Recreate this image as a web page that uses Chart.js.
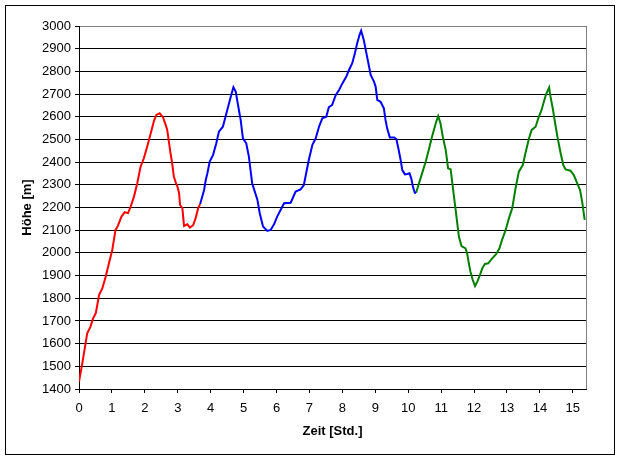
<!DOCTYPE html>
<html><head><meta charset="utf-8">
<script src="https://cdn.jsdelivr.net/npm/chart.js@4"></script>
<style>html,body{margin:0;padding:0;background:#fff}canvas{display:block}</style>
</head><body>
<canvas id="c" width="620" height="460"></canvas>
<script>
// Segment 1 (red)
const redTime = [0.00,0.10,0.15,0.25,0.35,0.43,0.51,0.61,0.71,0.81,0.91,1.01,1.11,1.18,1.29,1.39,1.49,1.57,1.67,1.77,1.87,1.97,2.07,2.18,2.28,2.35,2.45,2.55,2.62,2.68,2.73,2.78,2.83,2.88,2.94,2.99,3.04,3.07,3.14,3.19,3.29,3.37,3.47,3.54,3.62,3.68];
const redHeight = [1432,1513,1557,1646,1675,1712,1734,1814,1844,1895,1954,2013,2101,2119,2160,2179,2175,2204,2248,2307,2380,2417,2468,2527,2583,2608,2615,2598,2570,2542,2490,2439,2395,2336,2310,2292,2263,2211,2197,2119,2126,2111,2123,2152,2197,2215];
// Segment 2 (blue)
const blueTime = [3.68,3.80,3.85,3.90,3.97,4.07,4.17,4.25,4.37,4.45,4.53,4.61,4.69,4.76,4.84,4.91,4.98,5.08,5.16,5.21,5.26,5.34,5.42,5.49,5.59,5.72,5.82,5.92,6.02,6.15,6.23,6.43,6.58,6.73,6.83,6.90,6.98,7.09,7.19,7.29,7.39,7.51,7.59,7.69,7.80,7.90,8.00,8.12,8.20,8.30,8.38,8.45,8.52,8.57,8.65,8.72,8.79,8.86,8.96,9.01,9.06,9.16,9.26,9.31,9.36,9.44,9.57,9.64,9.70,9.77,9.82,9.90,9.97,10.04,10.10,10.14,10.20,10.24];
const blueHeight = [2215,2277,2321,2351,2402,2431,2483,2534,2556,2600,2644,2688,2730,2711,2644,2586,2505,2483,2424,2365,2307,2270,2233,2175,2116,2097,2101,2125,2160,2197,2219,2221,2270,2280,2299,2351,2409,2476,2505,2556,2593,2600,2642,2652,2696,2718,2747,2777,2806,2836,2880,2924,2960,2979,2938,2887,2836,2784,2755,2733,2674,2666,2637,2586,2549,2509,2509,2502,2461,2409,2365,2346,2348,2351,2324,2292,2265,2265];
// Segment 3 (green)
const greenTime = [10.24,10.32,10.43,10.53,10.61,10.71,10.78,10.85,10.91,10.98,11.05,11.14,11.21,11.29,11.34,11.39,11.44,11.49,11.54,11.62,11.74,11.79,11.84,11.89,11.96,12.03,12.10,12.18,12.25,12.33,12.43,12.55,12.67,12.77,12.85,12.96,13.06,13.16,13.26,13.36,13.48,13.56,13.67,13.75,13.87,13.95,14.05,14.12,14.19,14.28,14.32,14.39,14.48,14.55,14.63,14.71,14.78,14.93,15.03,15.13,15.22,15.29,15.36];
const greenHeight = [2265,2303,2355,2402,2446,2505,2542,2578,2603,2571,2512,2453,2373,2368,2307,2248,2189,2130,2071,2030,2020,1998,1954,1917,1881,1854,1873,1903,1932,1951,1954,1976,1994,2020,2057,2101,2153,2197,2285,2358,2387,2439,2505,2542,2556,2593,2630,2666,2700,2729,2690,2637,2556,2498,2439,2387,2368,2362,2343,2307,2277,2219,2145];

const xTickValues = [0,1,2,3,4,5,6,7,8,9,10,11,12,13,14,15];
const xMin = 0, xMax = 15.4;
const yMin = 1400, yMax = 3000, yStep = 100;

const toPts = (t, h) => t.map((v, i) => ({x: v, y: h[i]}));

Chart.defaults.font.family = '"Liberation Sans", Arial, sans-serif';
Chart.defaults.color = '#000';

const framePlugin = {
  id: 'frame',
  beforeDatasetsDraw(chart) {
    const {ctx, chartArea: a} = chart;
    ctx.save();
    ctx.strokeStyle = '#808080';
    ctx.lineWidth = 1;
    ctx.beginPath();
    ctx.moveTo(Math.round(a.right) + 0.5, a.top);
    ctx.lineTo(Math.round(a.right) + 0.5, a.bottom);
    ctx.stroke();
    ctx.restore();
  },
  afterDraw(chart) {
    const {ctx} = chart;
    ctx.save();
    ctx.strokeStyle = '#000';
    ctx.lineWidth = 1;
    ctx.strokeRect(5.5, 5.5, 609, 449);
    ctx.restore();
  }
};

const ds = (label, t, h, color) => ({
  label, data: toPts(t, h), borderColor: color, backgroundColor: color,
  borderWidth: 2, pointRadius: 0, tension: 0, fill: false
});

new Chart(document.getElementById('c'), {
  type: 'line',
  data: {
    datasets: [
      ds('Teil 1', redTime, redHeight, '#FF0000'),
      ds('Teil 2', blueTime, blueHeight, '#0000FF'),
      ds('Teil 3', greenTime, greenHeight, '#008000')
    ]
  },
  options: {
    responsive: false,
    animation: false,
    devicePixelRatio: 1,
    layout: {padding: {left: 0, right: 34, top: 26, bottom: 0}},
    plugins: {legend: {display: false}, tooltip: {enabled: false}},
    scales: {
      x: {
        type: 'linear', min: xMin, max: xMax,
        afterBuildTicks: s => { s.ticks = xTickValues.map(v => ({value: v})); },
        afterFit: s => { s.height = 71; },
        grid: {drawOnChartArea: false, drawTicks: true, tickLength: 4, tickColor: '#000'},
        border: {display: true, color: '#000', width: 1},
        ticks: {font: {size: 13}, color: '#000', padding: 8, maxRotation: 0, autoSkip: false,
                callback: v => String(v)},
        title: {display: true, text: 'Zeit [Std.]', font: {size: 13, weight: 'bold'}, color: '#000', padding: {top: 0, bottom: 21}}
      },
      y: {
        min: yMin, max: yMax,
        afterFit: s => { s.width = 79; },
        ticks: {stepSize: yStep, font: {size: 13}, color: '#000', padding: 4,
                callback: v => String(v)},
        grid: {
          color: c => (c.tick && c.tick.value === yMax) ? '#808080' : '#000',
          tickColor: '#000', tickLength: 4, lineWidth: 1
        },
        border: {display: true, color: '#000', width: 1},
        title: {display: true, text: 'Höhe [m]', font: {size: 13, weight: 'bold'}, color: '#000', padding: {top: 20, bottom: 0}}
      }
    }
  },
  plugins: [framePlugin]
});
</script>
</body></html>
